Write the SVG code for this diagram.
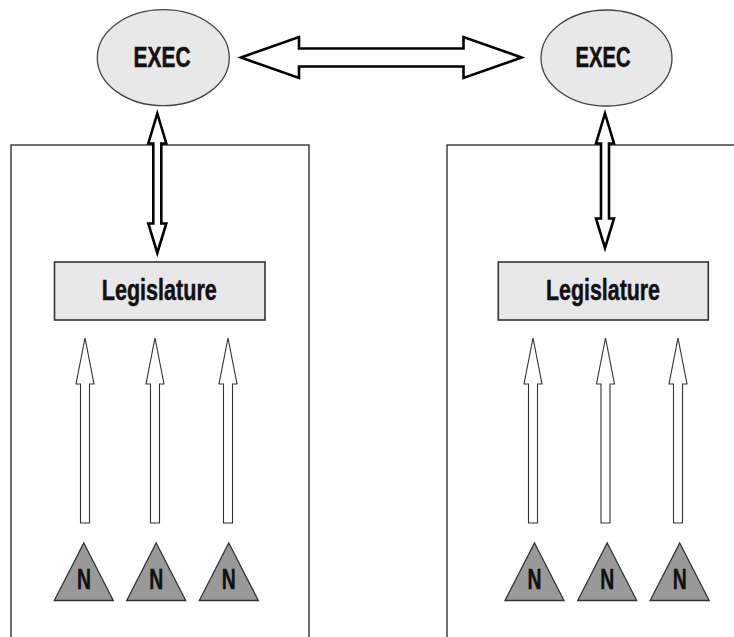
<svg xmlns="http://www.w3.org/2000/svg" xmlns:xlink="http://www.w3.org/1999/xlink" width="734" height="637" viewBox="0 0 734 637">
<style>
  .frame{fill:none;stroke:#333;stroke-width:1.4}
  .exec{fill:#e8e8e8;stroke:#444;stroke-width:1.3}
  .leg{fill:#e8e8e8;stroke:#333;stroke-width:1.6}
  .lbl{font-family:"Liberation Sans",Arial,sans-serif;font-weight:bold;font-size:29px;fill:#111;stroke:#111;stroke-width:0.5;text-anchor:middle}
  .nlbl{font-family:"Liberation Sans",Arial,sans-serif;font-weight:bold;font-size:29px;fill:#111;stroke:#111;stroke-width:0.5;text-anchor:middle}
  .tri{fill:#999;stroke:#333;stroke-width:1.3}
  .thick{fill:#fff;stroke:#000;stroke-width:2.6;stroke-linejoin:miter}
  .thin{fill:#fff;stroke:#333;stroke-width:1.1}
</style>
<defs>
  <path id="up" d="M0,338 L9,384 L4.5,384 L4.5,523 L-4.5,523 L-4.5,384 L-9,384 Z"/>
  <path id="tri" d="M0,543 L29.5,600.5 L-29.5,600.5 Z"/>
</defs>
<rect id="frame-left" class="frame" x="11" y="145" width="298" height="600"/>
<rect id="frame-right" class="frame" x="447" y="145" width="400" height="600"/>
<g id="connectors">
  <path class="thick" d="M241,57.5 L299,37 L299,48.5 L463.5,48.5 L463.5,37 L521.5,57.5 L463.5,78 L463.5,66.5 L299,66.5 L299,78 Z"/>
  <path class="thick" d="M157.3,113.5 L166.3,143.5 L161.3,143.5 L161.3,223.5 L166.3,223.5 L157.3,253 L148.3,223.5 L153.3,223.5 L153.3,143.5 L148.3,143.5 Z"/>
  <path class="thick" d="M605,113.5 L614,143.5 L609,143.5 L609,218.5 L614,218.5 L605,248 L596,218.5 L601,218.5 L601,143.5 L596,143.5 Z"/>
  <use xlink:href="#up" class="thin" x="85"/>
  <use xlink:href="#up" class="thin" x="155"/>
  <use xlink:href="#up" class="thin" x="228"/>
  <use xlink:href="#up" class="thin" x="533"/>
  <use xlink:href="#up" class="thin" x="605.5"/>
  <use xlink:href="#up" class="thin" x="678"/>
</g>
<g id="exec-left">
  <ellipse class="exec" cx="163.3" cy="57.7" rx="66" ry="48"/>
  <text class="lbl" x="162" y="66.5" textLength="57" lengthAdjust="spacingAndGlyphs">EXEC</text>
</g>
<g id="exec-right">
  <ellipse class="exec" cx="606.5" cy="58" rx="65.5" ry="48"/>
  <text class="lbl" x="603" y="66.5" textLength="55" lengthAdjust="spacingAndGlyphs">EXEC</text>
</g>
<g id="legislature-left">
  <rect class="leg" x="54.5" y="262" width="210.5" height="58"/>
  <text class="lbl" x="159.3" y="299.5" textLength="115" lengthAdjust="spacingAndGlyphs">Legislature</text>
</g>
<g id="legislature-right">
  <rect class="leg" x="498.3" y="262" width="210" height="58"/>
  <text class="lbl" x="603" y="299.5" textLength="114" lengthAdjust="spacingAndGlyphs">Legislature</text>
</g>
<g id="n-left-1"><use xlink:href="#tri" class="tri" x="83.8"/><text class="nlbl" x="84" y="588.5" textLength="14" lengthAdjust="spacingAndGlyphs">N</text></g>
<g id="n-left-2"><use xlink:href="#tri" class="tri" x="156.2"/><text class="nlbl" x="156.3" y="588.5" textLength="14" lengthAdjust="spacingAndGlyphs">N</text></g>
<g id="n-left-3"><use xlink:href="#tri" class="tri" x="228.8"/><text class="nlbl" x="228.8" y="588.5" textLength="14" lengthAdjust="spacingAndGlyphs">N</text></g>
<g id="n-right-1"><use xlink:href="#tri" class="tri" x="534.5"/><text class="nlbl" x="534.5" y="588.5" textLength="14" lengthAdjust="spacingAndGlyphs">N</text></g>
<g id="n-right-2"><use xlink:href="#tri" class="tri" x="607.2"/><text class="nlbl" x="607.2" y="588.5" textLength="14" lengthAdjust="spacingAndGlyphs">N</text></g>
<g id="n-right-3"><use xlink:href="#tri" class="tri" x="679.7"/><text class="nlbl" x="679.7" y="588.5" textLength="14" lengthAdjust="spacingAndGlyphs">N</text></g>
</svg>
